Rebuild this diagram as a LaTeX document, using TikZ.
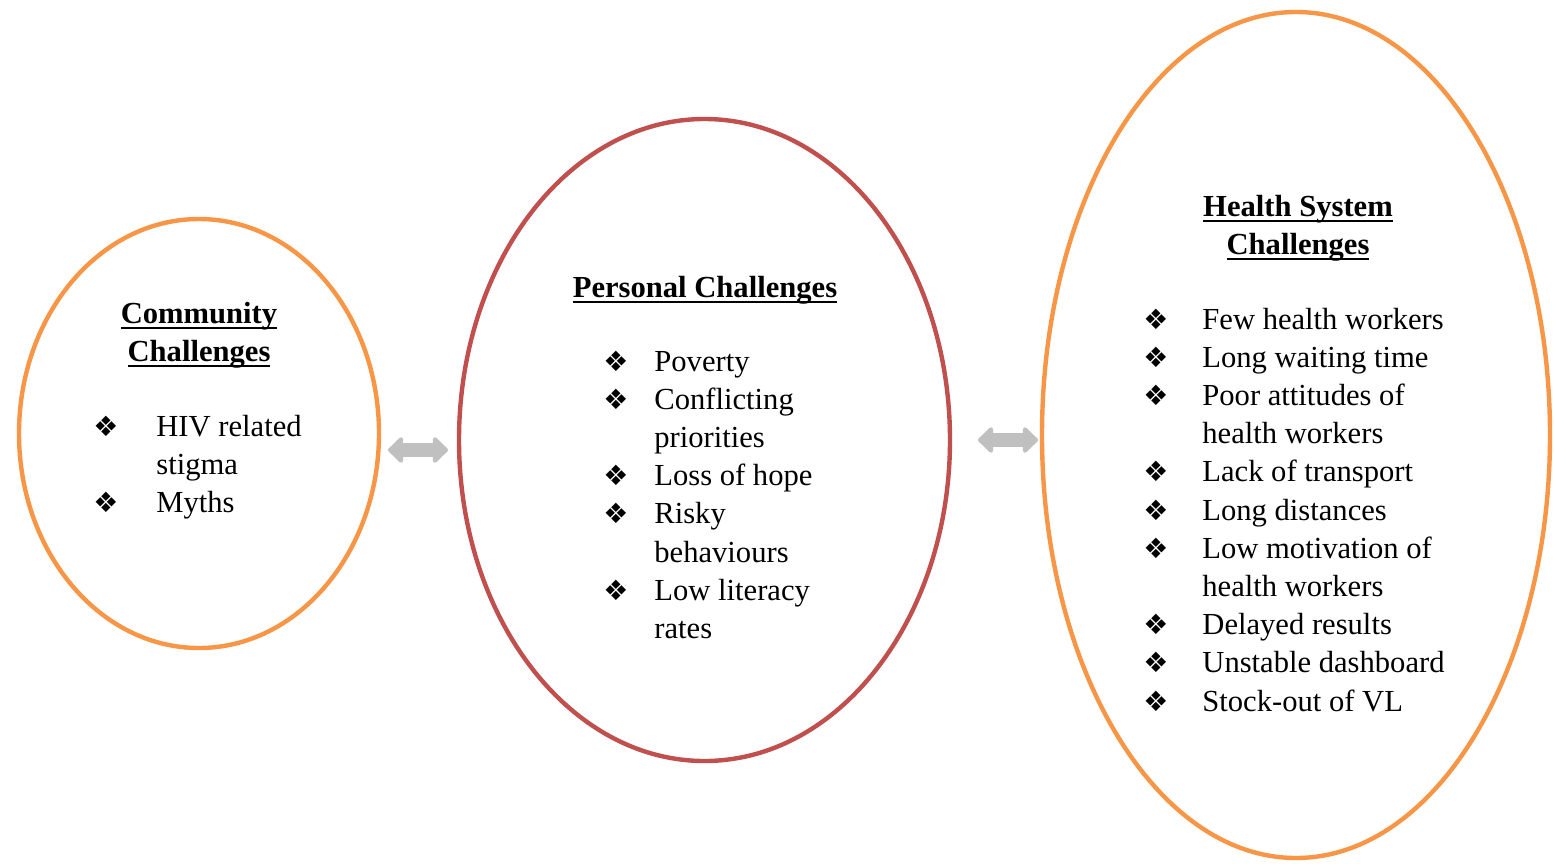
\documentclass[tikz,border=0pt]{standalone}
\usepackage{fontspec}
\setmainfont{Liberation Serif}
\newfontfamily\symfont{DejaVu Sans}
\usetikzlibrary{arrows.meta,matrix,positioning,shapes.geometric}

\definecolor{ovalorange}{HTML}{F79646}
\definecolor{ovalred}{HTML}{C0504D}
\definecolor{linkgray}{HTML}{C0C0C0}

\newsavebox{\ttlbox}
\newcommand{\bul}{{\symfont\fontsize{14}{14}\selectfont ❖}}
\newcommand{\ttl}[1]{\sbox{\ttlbox}{\textbf{#1}}\rlap{\rule[-3pt]{\wd\ttlbox}{1.2pt}}\usebox{\ttlbox}}

\tikzset{
    oval/.style={ellipse, draw, line width=2.2pt, inner sep=0pt},
    link/.style={linkgray, line width=7pt,
        {Triangle[length=8pt,width=15pt,round]}-{Triangle[length=8pt,width=15pt,round]}},
    heading/.style={align=center, font=\fontsize{15.3}{19}\selectfont},
    list/.style={matrix of nodes, row sep=0pt,
        nodes={inner sep=0pt, text height=13pt, text depth=6.1pt,
            font=\fontsize{15.3}{19}\selectfont},
        column 1/.style={nodes={minimum width=12pt, anchor=base}},
        column 2/.style={nodes={anchor=base west}}},
}

\begin{document}
\begin{tikzpicture}[x=0.5pt,y=-0.5pt]
        \useasboundingbox (0,0) rectangle (1554,863);

        % the three groups of challenges
        \node[oval, draw=ovalorange, minimum width=180pt, minimum height=214.5pt] (com) at (199,433.5) {};
        \node[oval, draw=ovalred, minimum width=245.5pt, minimum height=321pt] (per) at (704.5,440) {};
        \node[oval, draw=ovalorange, minimum width=254pt, minimum height=423pt] (hsc) at (1296,435) {};

        % two-way links between them
        \coordinate (comr) at (388,450);
        \coordinate (perl) at (448,450);
        \coordinate (perr) at (978,440);
        \coordinate (hscl) at (1038,440);
        \draw[link] (comr) -- (perl);
        \draw[link] (perr) -- (hscl);

        \node[heading] (comt) at (199,335) {\ttl{Community}\\\ttl{Challenges}};
        \node[heading] (pert) at (705,290) {\ttl{Personal Challenges}};
        \node[heading] (hsct) at (1298,228) {\ttl{Health System}\\\ttl{Challenges}};

        \matrix [list, column sep=19pt, matrix anchor=cl-1-2.base west] (cl) at (156,436)
        {
            \bul & HIV related \\
                 & stigma \\
            \bul & Myths \\
        };
        \matrix [list, column sep=13pt, matrix anchor=pl-1-2.base west] (pl) at (654,371)
        {
            \bul & Poverty \\
            \bul & Conflicting \\
                 & priorities \\
            \bul & Loss of hope \\
            \bul & Risky \\
                 & behaviours \\
            \bul & Low literacy \\
                 & rates \\
        };
        \matrix [list, column sep=17pt, matrix anchor=hl-1-2.base west] (hl) at (1202,329)
        {
            \bul & Few health workers \\
            \bul & Long waiting time \\
            \bul & Poor attitudes of \\
                 & health workers \\
            \bul & Lack of transport \\
            \bul & Long distances \\
            \bul & Low motivation of \\
                 & health workers \\
            \bul & Delayed results \\
            \bul & Unstable dashboard \\
            \bul & Stock-out of VL \\
        };
\end{tikzpicture}
\end{document}
